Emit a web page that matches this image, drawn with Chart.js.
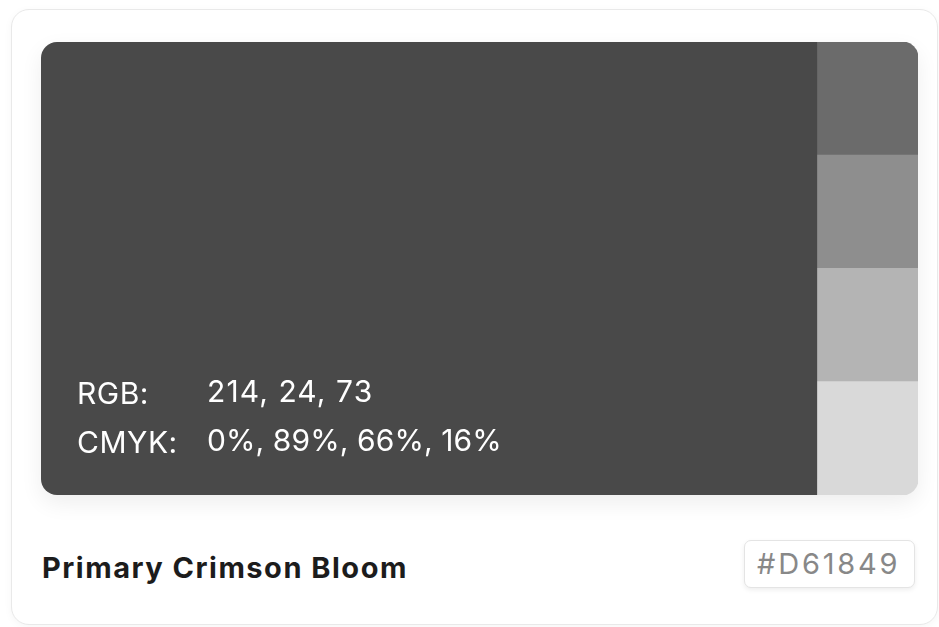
<!DOCTYPE html>
<html>
<head>
<meta charset="utf-8">
<script src="https://cdn.jsdelivr.net/npm/chart.js@4/dist/chart.umd.min.js"></script>
<style>
  html, body { margin:0; padding:0; background:#ffffff; width:939px; height:627px; overflow:hidden; }
  body { font-family: Inter, "Noto Sans", sans-serif; position:relative; }
  .card { position:absolute; left:11px; top:9px; width:927px; height:616px; box-sizing:border-box;
          border:1.5px solid #e9e9e9; border-radius:18px; background:#fff;
          box-shadow: 0 2px 8px rgba(0,0,0,0.04); }
  .swatch { position:absolute; left:41px; top:42px; width:877px; height:453px; border-radius:16px;
            box-shadow: 0 8px 22px rgba(0,0,0,0.07); }
  .swatch canvas { position:absolute; left:0; top:0; }
  .info { position:absolute; color:#ffffff; font-size:30px; font-weight:400; line-height:1; white-space:nowrap; letter-spacing:0.5px; }
  .name { position:absolute; left:42px; top:553px; font-size:29px; font-weight:700; color:#1c1c1c; line-height:1; white-space:nowrap; letter-spacing:1.5px; }
  .hexbox { position:absolute; left:744px; top:540px; width:171px; height:48px; box-sizing:border-box;
         border:1px solid #e4e4e4; border-radius:7px; background:#fff; box-shadow:0 2px 5px rgba(0,0,0,0.07); }
  .hex { position:absolute; left:757px; top:549px; color:#888888; font-size:29px; line-height:1; letter-spacing:2.8px; white-space:nowrap; }
</style>
</head>
<body>
<div class="card"></div>
<div class="swatch"><canvas id="c" width="877" height="453"></canvas></div>
<div class="info" style="left:77px; top:378px;">RGB:</div>
<div class="info" style="left:207px; top:376px; letter-spacing:1.1px;">214, 24, 73</div>
<div class="info" style="left:77px; top:427px;">CMYK:</div>
<div class="info" style="left:207px; top:425px; letter-spacing:0.1px;">0%, 89%, 66%, 16%</div>
<div class="name">Primary Crimson Bloom</div>
<div class="hexbox"></div>
<div class="hex">#D61849</div>
<script>
// Data
const colorName = 'Primary Crimson Bloom';
const hexCode = '#D61849';
const rgbValues = [214, 24, 73];
const cmykValues = [0, 89, 66, 16];
const shadeLabels = ['Shade 1', 'Shade 2', 'Shade 3', 'Shade 4'];
const mainShare = 88.5;                  // percent of width for the main swatch
const shadeRanges = [[88.5, 100], [88.5, 100], [88.5, 100], [88.5, 100]];
const mainColor = '#494949';
const shadeColors = ['#6b6b6b', '#8e8e8e', '#b4b4b4', '#d9d9d9'];

const R = 16;
new Chart(document.getElementById('c'), {
  type: 'bar',
  data: {
    labels: shadeLabels,
    datasets: [
      {
        label: colorName,
        data: [[0, mainShare]],
        yAxisID: 'yMain',
        backgroundColor: mainColor,
        borderWidth: 0,
        borderSkipped: false,
        borderRadius: {topLeft: R, bottomLeft: R, topRight: 0, bottomRight: 0},
        barPercentage: 1, categoryPercentage: 1, inflateAmount: 0, grouped: false
      },
      {
        label: 'Shades',
        data: shadeRanges,
        yAxisID: 'y',
        backgroundColor: shadeColors,
        borderWidth: 0,
        borderSkipped: false,
        borderRadius: (ctx) => ({
          topLeft: 0, bottomLeft: 0,
          topRight: ctx.dataIndex === 0 ? R : 0,
          bottomRight: ctx.dataIndex === shadeLabels.length - 1 ? R : 0
        }),
        barPercentage: 1, categoryPercentage: 1, inflateAmount: 0.5, grouped: false
      }
    ]
  },
  options: {
    indexAxis: 'y',
    responsive: false,
    animation: false,
    devicePixelRatio: 1,
    grouped: false,
    layout: { padding: 0 },
    plugins: { legend: { display: false }, tooltip: { enabled: false }, title: { display: false } },
    scales: {
      x: { type: 'linear', min: 0, max: 100, display: false, grid: { display: false } },
      y: { type: 'category', display: false, grid: { display: false } },
      yMain: { type: 'category', labels: [colorName], display: false, grid: { display: false } }
    }
  }
});
</script>
</body>
</html>
